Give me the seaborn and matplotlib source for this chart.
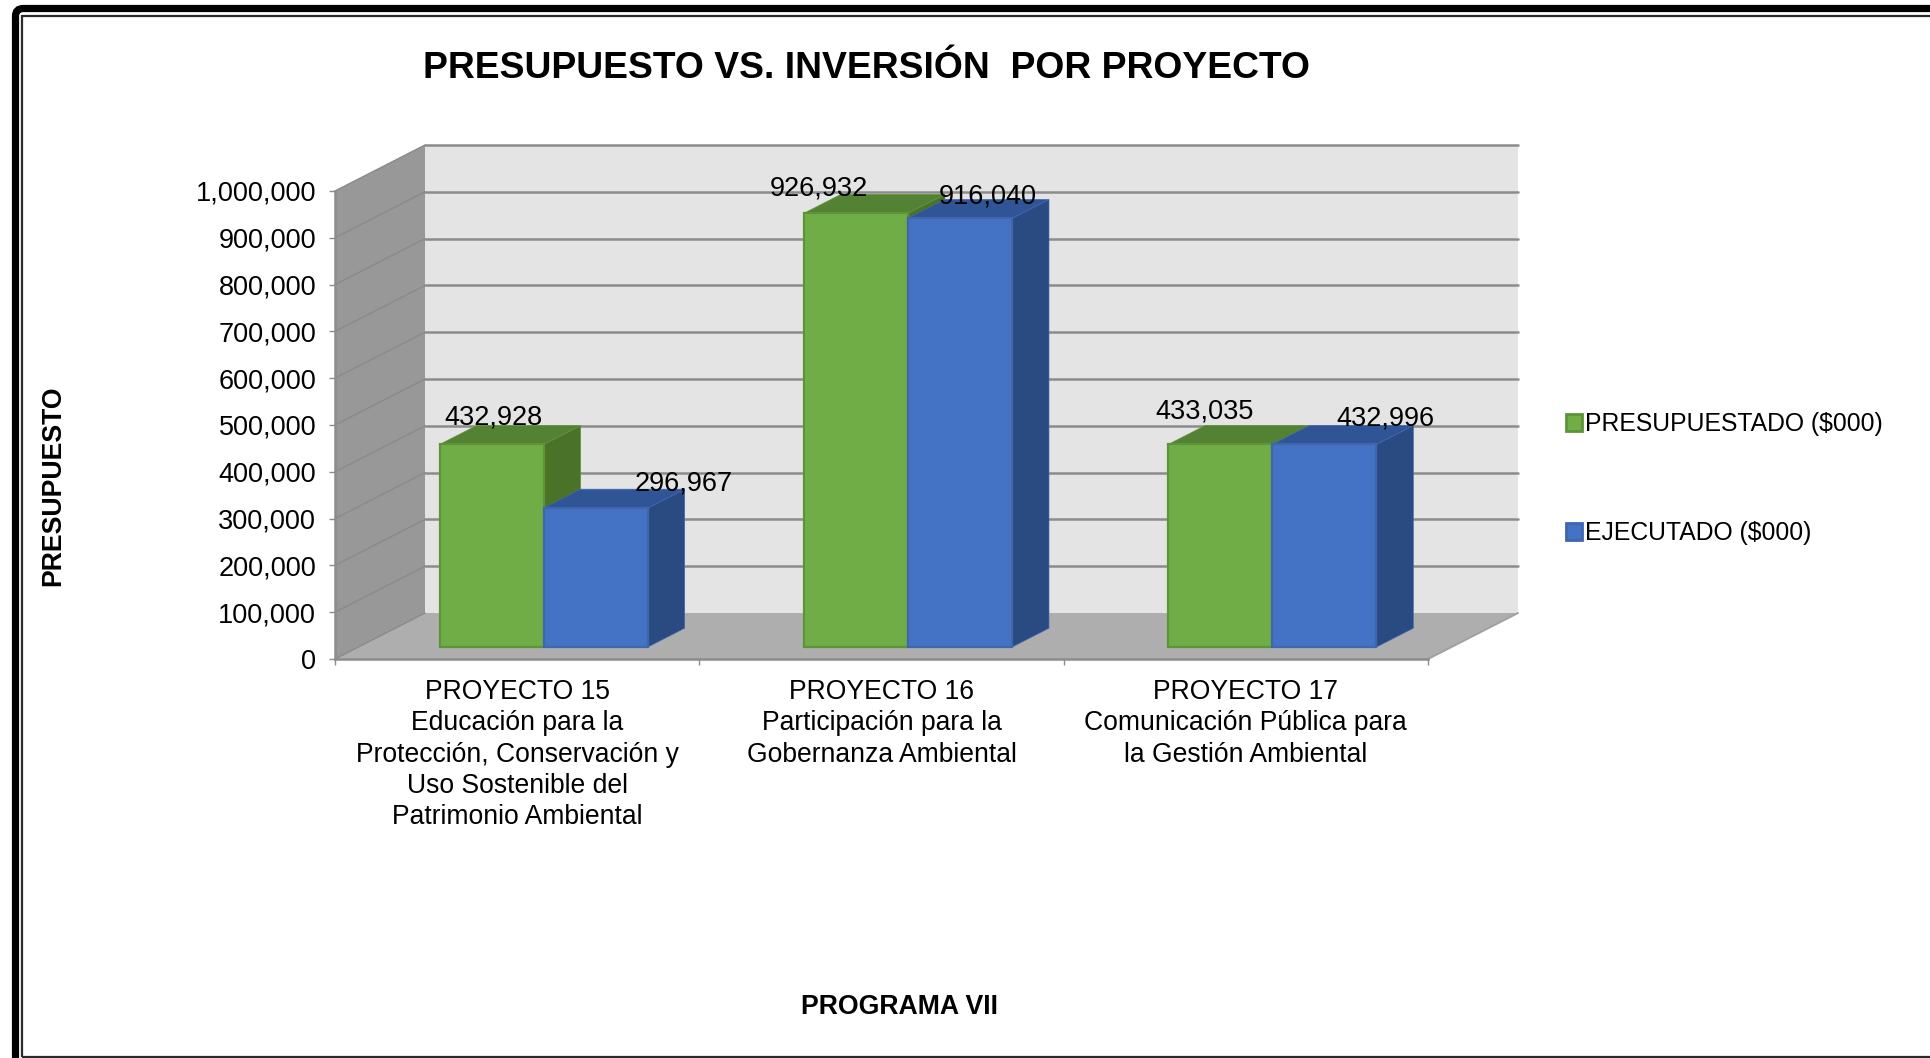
import matplotlib
matplotlib.use("Agg")
import matplotlib.pyplot as plt
from matplotlib.patches import Polygon, FancyBboxPatch, Rectangle
from matplotlib.ticker import StrMethodFormatter
import pandas as pd
import seaborn as sns

projects = [
    "PROYECTO 15\nEducación para la\nProtección, Conservación y\nUso Sostenible del\nPatrimonio Ambiental",
    "PROYECTO 16\nParticipación para la\nGobernanza Ambiental",
    "PROYECTO 17\nComunicación Pública para\nla Gestión Ambiental",
]
presupuestado = [432928, 926932, 433035]
ejecutado = [296967, 916040, 432996]
series_names = ["PRESUPUESTADO ($000)", "EJECUTADO ($000)"]

W, H = 1931, 1058
sns.set_theme(style="white")
plt.rcParams["font.family"] = ["Liberation Sans", "DejaVu Sans"]
plt.rcParams["text.color"] = "black"
FS = 19.5

df = pd.DataFrame({
    "proyecto": projects * 2,
    "valor": presupuestado + ejecutado,
    "serie": [series_names[0]] * 3 + [series_names[1]] * 3,
})

fig = plt.figure(figsize=(W / 100, H / 100), dpi=100, facecolor="white")
ax = fig.add_axes([335 / W, 1 - 659 / H, 1093 / W, 468 / H])
ax.patch.set_alpha(0)

sns.barplot(data=df, x="proyecto", y="valor", hue="serie", order=projects,
            hue_order=series_names, palette=["#70AD47", "#4472C4"],
            width=0.571, dodge=True, gap=0, saturation=1, ax=ax, zorder=3)
ax.set_xlim(-0.5, 2.5)
ax.set_ylim(0, 1_000_000)

# depth projection in data units
DX = 90 / (1093 / 3)
DY = 46 / 468 * 1_000_000
D0X, D1X = 0.295, 0.705
D0Y, D1Y = 0.26, 0.67


def pr(x, y, dx, dy=None):
    return (x + dx * DX, y + (dx if dy is None else dy) * DY)


def poly(pts, fc, ec="none", lw=0, z=1.0):
    ax.add_patch(Polygon(pts, closed=True, facecolor=fc, edgecolor=ec, linewidth=lw,
                         zorder=z, clip_on=False))


x0, x1 = ax.get_xlim()
ymax = ax.get_ylim()[1]
wall_line = "#8C8C8C"
poly([pr(x0, 0, 1), pr(x1, 0, 1), pr(x1, ymax, 1), pr(x0, ymax, 1)], "#E4E4E4", z=0.5)
poly([pr(x0, 0, 0), pr(x0, 0, 1), pr(x0, ymax, 1), pr(x0, ymax, 0)], "#989898", z=0.6)
poly([pr(x0, 0, 0), pr(x1, 0, 0), pr(x1, 0, 1), pr(x0, 0, 1)], "#AEAEAE", z=0.6)

ticks = list(range(0, 1_000_001, 100_000))
for t in ticks:
    if t > 0:
        a, b = pr(x0, t, 1), pr(x1, t, 1)
        ax.plot([a[0], b[0]], [a[1], b[1]], color=wall_line, lw=1.8, zorder=0.7, clip_on=False)
    c, d = pr(x0, t, 0), pr(x0, t, 1)
    ax.plot([c[0], d[0]], [c[1], d[1]], color="#8A8A8A", lw=1.0, zorder=0.7, clip_on=False)
a, b = pr(x1, 0, 0), pr(x1, 0, 1)
ax.plot([a[0], b[0]], [a[1], b[1]], color="#A0A0A0", lw=1.4, zorder=0.7, clip_on=False)

face_styles = [
    dict(edge="#5E9438", side="#4A7228", top="#548235"),
    dict(edge="#3E67AE", side="#2A4A82", top="#2F5597"),
]
for k, cont in enumerate(ax.containers):
    st = face_styles[k]
    for b in cont.patches:
        xl, xr, h = b.get_x(), b.get_x() + b.get_width(), b.get_height()
        zf = 3.0 + 0.5 * k
        poly([pr(xr, h, D0X, D0Y), pr(xr, 0, D0X, D0Y), pr(xr, 0, D1X, D1Y), pr(xr, h, D1X, D1Y)],
             st["side"], ec=st["edge"], lw=0.5, z=zf)
        poly([pr(xl, h, D0X, D0Y), pr(xr, h, D0X, D0Y), pr(xr, h, D1X, D1Y), pr(xl, h, D1X, D1Y)],
             st["top"], ec=st["edge"], lw=0.5, z=zf)
        ox, oy = pr(0, 0, D0X, D0Y)
        b.set_x(xl + ox)
        b.set_y(oy)
        b.set_edgecolor(st["edge"])
        b.set_linewidth(1.6)
        b.set_clip_on(False)
        b.set_zorder(3.2 + 0.5 * k)

# value labels: hand-placed offsets (pixels) from the front-face top centre
label_offsets = [[(2, 27), (88, 25)], [(-37, 25), (28, 22)], [(-16, 33), (61, 26)]]
for k, cont in enumerate(ax.containers):
    for i, b in enumerate(cont.patches):
        cx = b.get_x() + b.get_width() / 2
        top = b.get_y() + b.get_height()
        ax.annotate(f"{int(b.get_height()):,}", (cx, top), xytext=label_offsets[i][k],
                    textcoords="offset pixels", ha="center", va="center",
                    fontsize=FS, color="black", zorder=6, annotation_clip=False)

# axes
ax.set_yticks(ticks)
ax.yaxis.set_major_formatter(StrMethodFormatter("{x:,.0f}"))
ax.set_xticks([-0.5, 0.5, 1.5, 2.5], minor=False, labels=["", "", "", ""])
ax.set_xticks([0, 1, 2], minor=True, labels=projects)
ax.tick_params(axis="both", which="major", color="#8C8C8C", length=4.5, width=1, bottom=True, left=True)
ax.tick_params(axis="x", which="minor", length=0, pad=14.5, labelsize=19.1, labelcolor="black")
ax.tick_params(axis="y", labelsize=FS, pad=9, labelcolor="black")
for lab in ax.get_xticklabels(minor=True):
    lab.set_linespacing(1.26)
    lab.set_x(lab.get_position()[0])
sns.despine(ax=ax, top=True, right=True)
for s in ("left", "bottom"):
    ax.spines[s].set_color("#8C8C8C")
    ax.spines[s].set_linewidth(1.8)
    ax.spines[s].set_zorder(1)

fig.suptitle("PRESUPUESTO VS. INVERSIÓN  POR PROYECTO", x=867 / W, y=1 - 69 / H,
             ha="center", va="center", fontsize=26.8, fontweight="bold", color="black")
ax.set_ylabel("PRESUPUESTO", fontsize=19.2, fontweight="bold", color="black")
ax.yaxis.set_label_coords(66 / W, 1 - 486 / H, transform=fig.transFigure)
ax.set_xlabel("PROGRAMA VII", fontsize=19.2, fontweight="bold", color="black")
ax.xaxis.set_label_coords(900 / W, 1 - 994 / H, transform=fig.transFigure)

# legend
sns.move_legend(ax, loc="upper left", bbox_to_anchor=(1566 / W, 1 - 412 / H),
                bbox_transform=fig.transFigure, title=None, frameon=False, fontsize=17.8,
                handlelength=0.66, handleheight=0.66, handletextpad=0.12,
                labelspacing=3.44, borderpad=0, borderaxespad=0)
for h, st in zip(ax.get_legend().get_patches(), face_styles):
    h.set_edgecolor(st["edge"])
    h.set_linewidth(2)

# page frame: runs off the right and bottom edges like the reference
fig.add_artist(FancyBboxPatch((15.5 / W, 1 - 1200 / H), 2200 / W, (1200 - 8.5) / H,
                              boxstyle="round,pad=0,rounding_size=0.004",
                              transform=fig.transFigure, facecolor="none",
                              edgecolor="black", linewidth=5.2, mutation_aspect=W / H))
fig.add_artist(Rectangle((22.5 / W, 1 - 1056.5 / H), 2200 / W, (1056.5 - 15.5) / H,
                         transform=fig.transFigure, facecolor="none",
                         edgecolor="#2A2A2A", linewidth=1.6))

fig.savefig("out.png", dpi=100)
